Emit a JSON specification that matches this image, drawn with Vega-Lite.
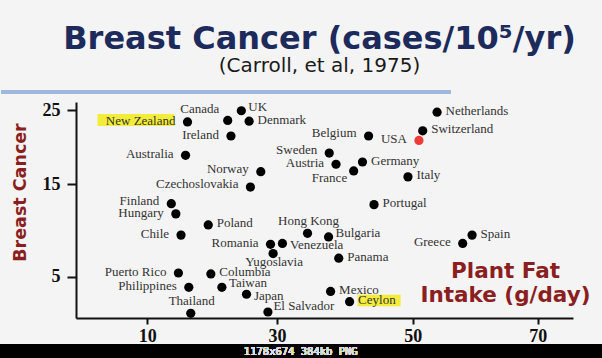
{
  "$schema": "https://vega.github.io/schema/vega-lite/v6.json",
  "width": 497,
  "height": 216,
  "autosize": {"type": "none"},
  "padding": {"left": 76, "top": 102, "right": 29, "bottom": 40},
  "background": "#f4f4f4",
  "title": {
    "text": "Breast Cancer (cases/10⁵/yr)",
    "subtitle": "(Carroll, et al, 1975)",
    "anchor": "middle",
    "font": "DejaVu Sans",
    "fontSize": 32,
    "fontWeight": "bold",
    "color": "#1d2a5c",
    "subtitleFont": "DejaVu Sans",
    "subtitleFontSize": 20,
    "subtitleColor": "#1a1a1a",
    "subtitlePadding": 0,
    "offset": 14,
    "dx": -5
  },
  "config": {
    "view": {"stroke": null},
    "axis": {
      "grid": false,
      "domainColor": "#111111",
      "domainWidth": 2,
      "tickColor": "#111111",
      "tickWidth": 2,
      "labelFont": "Liberation Serif",
      "labelFontWeight": "bold",
      "labelFontSize": 18,
      "labelColor": "#111111"
    }
  },
  "data": {
    "values": [
      {"country": "Canada", "fat": 22.4, "cancer": 23.6, "lab": "TL"},
      {"country": "UK", "fat": 24.5, "cancer": 24.9, "lab": "RU"},
      {"country": "Denmark", "fat": 25.7, "cancer": 23.5, "lab": "R"},
      {"country": "New Zealand", "fat": 16.2, "cancer": 23.4, "lab": "L"},
      {"country": "Ireland", "fat": 22.9, "cancer": 21.5, "lab": "L"},
      {"country": "Australia", "fat": 15.9, "cancer": 18.9, "lab": "L"},
      {"country": "Norway", "fat": 27.5, "cancer": 16.7, "lab": "LU"},
      {"country": "Czechoslovakia", "fat": 25.9, "cancer": 14.7, "lab": "LU"},
      {"country": "Finland", "fat": 13.7, "cancer": 12.9, "lab": "LU"},
      {"country": "Hungary", "fat": 14.4, "cancer": 11.8, "lab": "L"},
      {"country": "Poland", "fat": 19.4, "cancer": 10.6, "lab": "R"},
      {"country": "Chile", "fat": 15.2, "cancer": 9.5, "lab": "L"},
      {"country": "Romania", "fat": 29.0, "cancer": 8.5, "lab": "L"},
      {"country": "Venezuela", "fat": 30.8, "cancer": 8.6, "lab": "RD"},
      {"country": "Yugoslavia", "fat": 29.4, "cancer": 7.5, "lab": "B"},
      {"country": "Puerto Rico", "fat": 14.8, "cancer": 5.4, "lab": "L"},
      {"country": "Columbia", "fat": 19.8, "cancer": 5.3, "lab": "R"},
      {"country": "Philippines", "fat": 16.4, "cancer": 3.85, "lab": "L"},
      {"country": "Taiwan", "fat": 21.5, "cancer": 3.85, "lab": "RU"},
      {"country": "Japan", "fat": 25.3, "cancer": 3.1, "lab": "RD"},
      {"country": "Thailand", "fat": 16.7, "cancer": 1.04, "lab": "T"},
      {"country": "El Salvador", "fat": 28.6, "cancer": 1.18, "lab": "TR"},
      {"country": "Hong Kong", "fat": 34.5, "cancer": 9.7, "lab": "T"},
      {"country": "Bulgaria", "fat": 37.6, "cancer": 9.3, "lab": "RU"},
      {"country": "Panama", "fat": 39.1, "cancer": 7.0, "lab": "R"},
      {"country": "Mexico", "fat": 37.9, "cancer": 3.4, "lab": "R"},
      {"country": "Ceylon", "fat": 40.7, "cancer": 2.3, "lab": "R"},
      {"country": "Greece", "fat": 58.0, "cancer": 8.6, "lab": "L"},
      {"country": "Spain", "fat": 59.5, "cancer": 9.5, "lab": "R"},
      {"country": "Portugal", "fat": 44.3, "cancer": 12.8, "lab": "R"},
      {"country": "Italy", "fat": 49.3, "cancer": 16.0, "lab": "R"},
      {"country": "France", "fat": 41.3, "cancer": 16.8, "lab": "BL"},
      {"country": "Germany", "fat": 42.6, "cancer": 18.0, "lab": "R"},
      {"country": "Austria", "fat": 38.7, "cancer": 17.7, "lab": "L"},
      {"country": "Sweden", "fat": 37.7, "cancer": 19.2, "lab": "LU"},
      {"country": "Belgium", "fat": 43.5, "cancer": 21.5, "lab": "LU"},
      {"country": "USA", "fat": 51.0, "cancer": 20.9, "lab": "L"},
      {"country": "Switzerland", "fat": 51.6, "cancer": 22.2, "lab": "R"},
      {"country": "Netherlands", "fat": 53.9, "cancer": 24.7, "lab": "R"}
    ]
  },
  "encoding": {
    "x": {
      "field": "fat",
      "type": "quantitative",
      "scale": {"domain": [-0.97, 10, 30, 50, 70, 75.65], "range": [0, 71.3, 201, 336.7, 461.7, 497], "nice": false, "zero": false},
      "axis": {
        "values": [10, 30, 50, 70],
        "tickSize": 6,
        "labelPadding": 3,
        "title": ["Plant Fat", "Intake (g/day)"],
        "titleFont": "DejaVu Sans",
        "titleFontSize": 21.5,
        "titleFontWeight": "bold",
        "titleColor": "#8b1f1f",
        "titleX": 429,
        "titleY": -41,
        "titleAlign": "center",
        "titleBaseline": "alphabetic",
        "titleLineHeight": 24,
        "titleAngle": 0
      }
    },
    "y": {
      "field": "cancer",
      "type": "quantitative",
      "scale": {"domain": [0.53, 5, 15, 25, 26.08], "range": [216, 174.7, 82.3, 8, 0], "nice": false, "zero": false},
      "axis": {
        "values": [5, 15, 25],
        "tickSize": 9,
        "labelPadding": 7,
        "title": "Breast Cancer",
        "titleFont": "DejaVu Sans",
        "titleFontSize": 17.5,
        "titleFontWeight": "bold",
        "titleColor": "#8b1f1f",
        "titleX": -56,
        "titleY": 90,
        "titleAngle": -90,
        "titleAlign": "center",
        "titleBaseline": "middle"
      }
    }
  },
  "layer": [
    {
      "mark": {"type": "rect", "color": "#000000"},
      "encoding": {
        "x": {"datum": -14, "type": "quantitative"},
        "x2": {"datum": 82},
        "y": {"datum": -2.28, "type": "quantitative"},
        "y2": {"datum": -4.6}
      }
    },
    {
      "mark": {"type": "text", "font": "DejaVu Sans Mono", "fontSize": 10.5, "color": "#dcdcdc", "align": "center", "baseline": "alphabetic"},
      "encoding": {
        "x": {"datum": 33.5, "type": "quantitative"},
        "y": {"datum": -3.47, "type": "quantitative"},
        "text": {"value": "1178x674 384kb PNG"}
      }
    },
    {
      "mark": {"type": "rule", "color": "#9cb9de", "strokeWidth": 3},
      "encoding": {
        "x": {"datum": -12.4, "type": "quantitative"},
        "x2": {"datum": 56},
        "y": {"datum": 27.43, "type": "quantitative"}
      }
    },
    {
      "transform": [{"filter": "datum.country === 'New Zealand'"}],
      "mark": {"type": "rect", "color": "#f3ec3a", "xOffset": -90, "x2Offset": -13, "yOffset": -8, "y2Offset": 4},
      "encoding": {"x2": {"field": "fat"}, "y2": {"field": "cancer"}}
    },
    {
      "transform": [{"filter": "datum.country === 'Ceylon'"}],
      "mark": {"type": "rect", "color": "#f3ec3a", "xOffset": 8, "x2Offset": 51, "yOffset": -7, "y2Offset": 4.5},
      "encoding": {"x2": {"field": "fat"}, "y2": {"field": "cancer"}}
    },
    {
      "transform": [{"filter": "datum.lab === 'L'"}],
      "mark": {"type": "text", "align": "right", "baseline": "middle", "dx": -12, "dy": -1, "font": "Liberation Serif", "fontSize": 13, "color": "#333333"},
      "encoding": {"text": {"field": "country"}}
    },
    {
      "transform": [{"filter": "datum.lab === 'LU'"}],
      "mark": {"type": "text", "align": "right", "baseline": "middle", "dx": -12, "dy": -3, "font": "Liberation Serif", "fontSize": 13, "color": "#333333"},
      "encoding": {"text": {"field": "country"}}
    },
    {
      "transform": [{"filter": "datum.lab === 'R'"}],
      "mark": {"type": "text", "align": "left", "baseline": "middle", "dx": 8.5, "dy": -1.5, "font": "Liberation Serif", "fontSize": 13, "color": "#333333"},
      "encoding": {"text": {"field": "country"}}
    },
    {
      "transform": [{"filter": "datum.lab === 'RU'"}],
      "mark": {"type": "text", "align": "left", "baseline": "middle", "dx": 7, "dy": -4, "font": "Liberation Serif", "fontSize": 13, "color": "#333333"},
      "encoding": {"text": {"field": "country"}}
    },
    {
      "transform": [{"filter": "datum.lab === 'RD'"}],
      "mark": {"type": "text", "align": "left", "baseline": "middle", "dx": 7.5, "dy": 2, "font": "Liberation Serif", "fontSize": 13, "color": "#333333"},
      "encoding": {"text": {"field": "country"}}
    },
    {
      "transform": [{"filter": "datum.lab === 'T'"}],
      "mark": {"type": "text", "align": "center", "baseline": "middle", "dx": 1, "dy": -12.5, "font": "Liberation Serif", "fontSize": 13, "color": "#333333"},
      "encoding": {"text": {"field": "country"}}
    },
    {
      "transform": [{"filter": "datum.lab === 'B'"}],
      "mark": {"type": "text", "align": "center", "baseline": "middle", "dx": 1, "dy": 8.5, "font": "Liberation Serif", "fontSize": 13, "color": "#333333"},
      "encoding": {"text": {"field": "country"}}
    },
    {
      "transform": [{"filter": "datum.lab === 'TL'"}],
      "mark": {"type": "text", "align": "right", "baseline": "middle", "dx": -8.5, "dy": -11.5, "font": "Liberation Serif", "fontSize": 13, "color": "#333333"},
      "encoding": {"text": {"field": "country"}}
    },
    {
      "transform": [{"filter": "datum.lab === 'TR'"}],
      "mark": {"type": "text", "align": "left", "baseline": "middle", "dx": 5.5, "dy": -6, "font": "Liberation Serif", "fontSize": 13, "color": "#333333"},
      "encoding": {"text": {"field": "country"}}
    },
    {
      "transform": [{"filter": "datum.lab === 'BL'"}],
      "mark": {"type": "text", "align": "right", "baseline": "middle", "dx": -6.5, "dy": 7.5, "font": "Liberation Serif", "fontSize": 13, "color": "#333333"},
      "encoding": {"text": {"field": "country"}}
    },
    {
      "mark": {"type": "point", "filled": true, "opacity": 1, "size": 85},
      "encoding": {
        "color": {
          "condition": {"test": "datum.country === 'USA'", "value": "#ee3b36"},
          "value": "#000000"
        }
      }
    }
  ]
}
